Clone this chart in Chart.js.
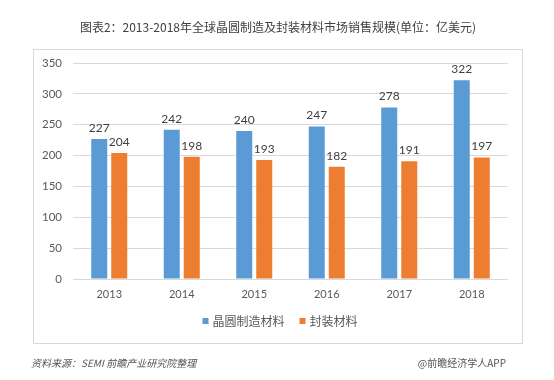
<!DOCTYPE html>
<html><head><meta charset="utf-8">
<script src="https://cdn.jsdelivr.net/npm/chart.js@4/dist/chart.umd.min.js"></script>
<style>html,body{margin:0;padding:0;background:#fff}canvas{display:block}</style>
</head><body>
<canvas id="c" width="554" height="380"></canvas>
<script>
const categories = ['2013','2014','2015','2016','2017','2018'];
const waferValues = [227, 242, 240, 247, 278, 322];
const packagingValues = [204, 198, 193, 182, 191, 197];
const seriesNames = ['晶圆制造材料', '封装材料'];
const yTicks = [0, 50, 100, 150, 200, 250, 300, 350];
const titleText = '图表2：2013-2018年全球晶圆制造及封装材料市场销售规模(单位：亿美元)';
const sourceText = '资料来源：SEMI 前瞻产业研究院整理';
const creditText = '@前瞻经济学人APP';

const CJK = "'Noto Sans CJK SC', 'Microsoft YaHei', sans-serif";
const NUM = "Lato, 'Liberation Sans', sans-serif";

const decor = {
  id: 'decor',
  beforeDraw(chart) {
    const ctx = chart.ctx;
    ctx.save();
    ctx.fillStyle = '#fff';
    ctx.fillRect(0, 0, chart.width, chart.height);
    ctx.strokeStyle = '#d9d9d9';
    ctx.lineWidth = 1;
    ctx.strokeRect(33.5, 49.5, 489, 294);
    ctx.fillStyle = '#404040';
    ctx.font = '12px ' + CJK;
    ctx.textAlign = 'center';
    ctx.textBaseline = 'middle';
    ctx.fillText(titleText, 278, 27);
    ctx.fillStyle = '#555';
    ctx.font = 'italic 10px ' + CJK;
    ctx.textAlign = 'left';
    ctx.fillText(sourceText, 31, 363);
    ctx.textAlign = 'right';
    ctx.font = '10px ' + CJK;
    ctx.fillText(creditText, 506, 363);
    ctx.restore();
  },
  afterDatasetsDraw(chart) {
    const ctx = chart.ctx;
    ctx.save();
    ctx.fillStyle = '#404040';
    ctx.font = '12px ' + NUM;
    ctx.textAlign = 'center';
    ctx.textBaseline = 'bottom';
    chart.data.datasets.forEach((ds, i) => {
      chart.getDatasetMeta(i).data.forEach((bar, j) => {
        ctx.fillText(String(ds.data[j]), bar.x, bar.y - 5);
      });
    });
    // custom legend
    ctx.font = '12px ' + CJK;
    ctx.textAlign = 'left';
    ctx.textBaseline = 'middle';
    const y = 321, gap = 4, itemGap = 15, box = 6;
    const widths = chart.data.datasets.map(ds => box + gap + ctx.measureText(ds.label).width);
    const total = widths.reduce((a, b) => a + b, 0) + itemGap * (widths.length - 1);
    let x = 280 - total / 2;
    chart.data.datasets.forEach((ds, i) => {
      ctx.fillStyle = ds.backgroundColor;
      ctx.fillRect(x, y - box / 2, box, box);
      ctx.fillStyle = '#595959';
      ctx.fillText(ds.label, x + box + gap, y);
      x += widths[i] + itemGap;
    });
    ctx.restore();
  }
};

new Chart(document.getElementById('c'), {
  type: 'bar',
  data: {
    labels: categories,
    datasets: [
      { label: seriesNames[0], data: waferValues, backgroundColor: '#5B9BD5' },
      { label: seriesNames[1], data: packagingValues, backgroundColor: '#ED7D31' }
    ]
  },
  options: {
    responsive: false,
    animation: false,
    devicePixelRatio: 1,
    layout: { padding: { top: 63, right: 46, bottom: 71, left: 0 } },
    datasets: { bar: { categoryPercentage: 0.552, barPercentage: 0.8 } },
    plugins: {
      title: { display: false },
      tooltip: { enabled: false },
      legend: { display: false }
    },
    scales: {
      x: {
        grid: { display: false, drawTicks: false },
        border: { display: false },
        ticks: { color: '#595959', padding: 9, font: { size: 11, family: NUM } },
        afterFit(s) { s.height = 30; }
      },
      y: {
        min: 0, max: 350,
        afterBuildTicks(s) { s.ticks = yTicks.map(v => ({ value: v })); },
        grid: { color: '#d9d9d9', drawTicks: false },
        border: { display: false },
        ticks: { color: '#595959', padding: 11, font: { size: 11.5, family: NUM } },
        afterFit(s) { s.width = 73; }
      }
    }
  },
  plugins: [decor]
});
</script>
</body></html>
